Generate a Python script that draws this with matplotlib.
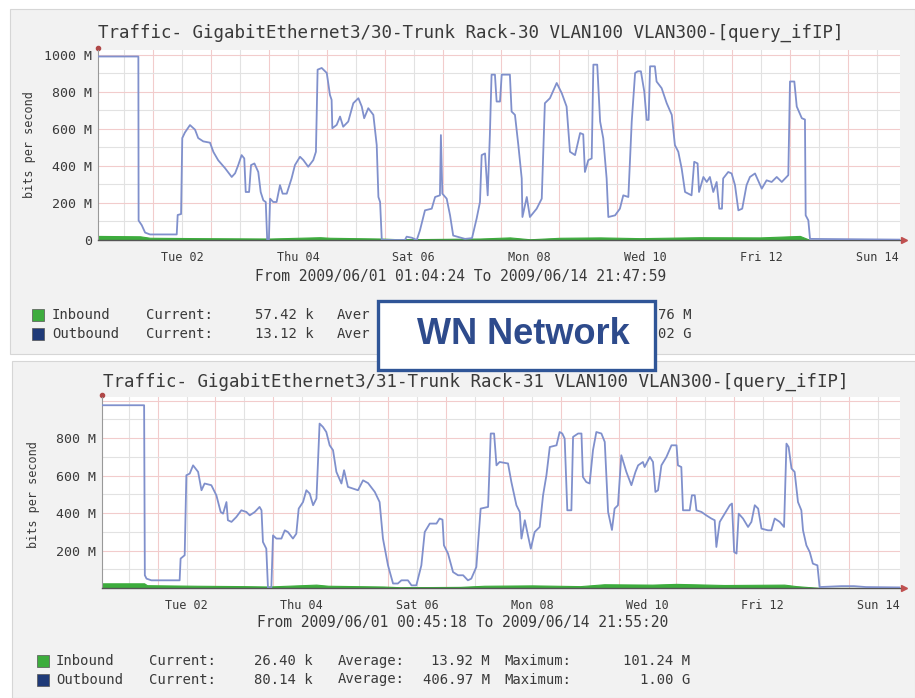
import numpy as np
import matplotlib
matplotlib.use('Agg')
import matplotlib.pyplot as plt
from matplotlib.patches import Rectangle

W, H = 915, 698
MONO = 'DejaVu Sans Mono'
TXT = '#3a3a3a'

# hours since 2009/06/01 00:00 -> Mbit/s
top_out = [(1.1, 990), (17.8, 990), (17.9, 105), (19.2, 80), (20.6, 40), (22.6, 30), (33.7, 30),
           (34.1, 135), (35.5, 140), (36.0, 550), (37.1, 580), (39.2, 620), (41.3, 595), (42.6, 550),
           (44.7, 532), (47.5, 525), (48.9, 475), (50.9, 430), (53.7, 388), (56.5, 340), (57.9, 360),
           (59.2, 404), (60.6, 458), (61.7, 440), (62.3, 259), (63.7, 259), (64.5, 404), (65.9, 413),
           (67.5, 367), (68.5, 259), (69.6, 214), (70.6, 205), (71.2, 0), (71.9, 0), (72.4, 223),
           (73.7, 205), (75.1, 205), (76.5, 296), (77.6, 250), (79.3, 250), (81.3, 332), (82.7, 404),
           (84.8, 449), (86.2, 431), (88.2, 395), (90.3, 431), (91.4, 476), (92.1, 919), (93.8, 928),
           (95.9, 901), (97.2, 783), (97.9, 756), (98.2, 603), (100.0, 621), (101.4, 666), (102.7, 611),
           (104.8, 639), (106.9, 738), (109.0, 765), (110.4, 720), (111.4, 657), (113.1, 711),
           (115.2, 675), (116.6, 512), (117.3, 232), (118.0, 205), (118.7, 0), (128.3, 0), (129.0, 18),
           (131.2, 12), (133.2, 0), (134.5, 51), (136.6, 160), (139.4, 169), (140.8, 232), (142.8, 241),
           (143.2, 566), (143.8, 250), (145.6, 223), (147.0, 133), (148.3, 24), (153.2, 6), (156.1, 10),
           (158.0, 115), (159.4, 205), (160.1, 458), (161.5, 467), (162.6, 241), (163.5, 566),
           (164.2, 892), (165.6, 892), (166.3, 747), (167.7, 747), (168.4, 892), (171.8, 892),
           (172.5, 693), (173.9, 675), (175.3, 512), (176.7, 332), (177.0, 124), (178.8, 232),
           (180.1, 124), (182.9, 169), (185.0, 223), (186.3, 738), (188.4, 765), (191.2, 847),
           (193.3, 792), (195.3, 720), (196.7, 476), (198.8, 458), (200.9, 577), (202.2, 570),
           (202.9, 367), (204.3, 431), (205.7, 440), (206.4, 946), (208.0, 946), (209.2, 639),
           (210.5, 548), (211.9, 332), (212.6, 124), (215.4, 133), (217.4, 169), (218.8, 241),
           (220.9, 232), (222.3, 639), (223.7, 901), (224.8, 910), (226.1, 910), (227.5, 801),
           (228.5, 648), (229.3, 648), (229.9, 937), (231.9, 937), (232.6, 855), (234.7, 819),
           (236.8, 738), (238.9, 675), (240.2, 512), (241.6, 476), (243.0, 386), (244.4, 259),
           (247.1, 241), (248.2, 422), (249.6, 413), (250.2, 259), (252.0, 340), (253.4, 313),
           (254.7, 340), (256.1, 259), (257.5, 313), (258.6, 169), (259.7, 169), (260.2, 332),
           (262.3, 367), (263.7, 359), (265.1, 296), (266.5, 160), (268.1, 169), (269.9, 296),
           (271.3, 340), (273.4, 359), (276.2, 277), (278.2, 322), (280.3, 313), (282.4, 340),
           (284.5, 313), (287.2, 350), (287.9, 855), (289.7, 855), (290.7, 720), (292.8, 657),
           (294.1, 650), (294.4, 133), (295.5, 106), (296.2, 6), (333.5, 2)]

top_in = [(1.1, 22), (18.5, 20), (22.6, 12), (43.4, 10), (72.4, 8), (93.1, 15), (97.2, 12),
          (118.0, 8), (126.2, 4), (142.8, 6), (159.4, 8), (171.8, 14), (180.1, 4), (192.6, 12),
          (209.2, 14), (225.7, 10), (250.6, 15), (275.5, 14), (292.0, 22), (296.2, 0), (333.5, 0)]

bot_out = [(0.8, 976), (18.3, 976), (18.6, 68), (19.3, 50), (21.3, 41), (33.1, 41), (33.5, 157),
           (35.2, 175), (35.9, 602), (37.3, 611), (38.7, 655), (40.8, 620), (42.2, 522), (43.5, 558),
           (46.3, 549), (48.4, 495), (50.2, 406), (51.2, 397), (52.6, 459), (53.2, 362), (54.7, 353),
           (56.7, 379), (58.8, 415), (60.9, 406), (62.3, 388), (64.4, 406), (66.4, 433), (67.2, 415),
           (67.8, 246), (69.2, 210), (69.9, 0), (71.3, 0), (72.0, 281), (73.4, 264), (75.5, 264),
           (76.9, 308), (78.2, 299), (80.3, 264), (81.7, 290), (82.7, 424), (84.5, 459), (85.9, 522),
           (87.3, 504), (88.7, 442), (90.1, 478), (91.4, 878), (92.8, 860), (94.2, 833), (95.6, 762),
           (97.0, 736), (98.4, 620), (100.5, 558), (101.6, 629), (103.2, 540), (105.3, 531),
           (107.4, 522), (109.5, 575), (111.6, 560), (114.4, 513), (116.4, 459), (117.8, 264),
           (119.9, 121), (122.0, 24), (124.0, 24), (125.5, 41), (128.2, 41), (129.7, 14), (131.7, 14),
           (133.8, 121), (135.2, 299), (137.3, 344), (140.1, 344), (141.4, 371), (142.6, 365),
           (143.2, 228), (144.9, 184), (147.0, 85), (149.1, 68), (151.2, 68), (153.2, 41), (154.6, 50),
           (156.7, 112), (158.5, 424), (161.6, 433), (162.7, 825), (164.1, 825), (165.1, 655),
           (166.4, 673), (169.9, 665), (171.3, 566), (173.4, 442), (174.8, 406), (175.5, 264),
           (176.9, 362), (178.2, 281), (179.4, 210), (181.0, 299), (183.1, 326), (184.5, 495),
           (185.9, 602), (187.3, 753), (190.1, 762), (191.4, 833), (192.5, 825), (193.5, 798),
           (194.6, 415), (196.3, 415), (197.0, 807), (199.1, 825), (200.5, 825), (201.1, 593),
           (202.5, 566), (203.9, 558), (205.3, 736), (206.7, 833), (208.8, 825), (210.2, 780),
           (211.6, 406), (213.2, 310), (214.3, 424), (215.7, 442), (217.1, 709), (219.2, 620),
           (221.3, 549), (223.0, 620), (224.1, 655), (226.1, 673), (226.8, 646), (229.0, 700),
           (230.3, 673), (231.3, 513), (232.4, 522), (233.8, 655), (235.9, 700), (238.0, 762),
           (240.1, 762), (240.7, 655), (242.1, 646), (242.8, 415), (245.6, 415), (246.5, 495),
           (247.7, 495), (248.4, 415), (250.5, 406), (252.5, 388), (254.6, 371), (256.0, 362),
           (256.7, 219), (258.1, 353), (260.2, 397), (262.3, 442), (263.2, 451), (264.1, 192),
           (265.1, 184), (266.0, 397), (267.8, 371), (269.9, 326), (271.3, 353), (272.7, 442),
           (274.1, 424), (275.5, 317), (278.2, 308), (279.6, 308), (281.0, 371), (283.1, 353),
           (284.9, 326), (285.9, 771), (286.8, 753), (288.0, 638), (289.3, 620), (290.7, 459),
           (292.1, 415), (292.8, 308), (294.2, 228), (295.6, 192), (296.9, 130), (298.8, 121),
           (299.7, 5), (308.8, 10), (314.0, 10), (319.0, 5), (333.2, 3)]

bot_in = [(0.8, 25), (18.3, 25), (19.5, 15), (40, 12), (60, 10), (70, 8), (90, 18), (95, 12),
          (118, 8), (125, 4), (150, 6), (160, 12), (180, 14), (200, 10), (210, 20), (230, 18),
          (240, 22), (260, 16), (285, 18), (290, 10), (298, 2), (300, 0), (333.2, 0)]

day_ticks = [36, 84, 132, 180, 228, 276, 324]
day_labels = ['Tue 02', 'Thu 04', 'Sat 06', 'Mon 08', 'Wed 10', 'Fri 12', 'Sun 14']

top_title = 'Traffic- GigabitEthernet3/30-Trunk Rack-30 VLAN100 VLAN300-[query_ifIP]'
bot_title = 'Traffic- GigabitEthernet3/31-Trunk Rack-31 VLAN100 VLAN300-[query_ifIP]'
top_range = 'From 2009/06/01 01:04:24 To 2009/06/14 21:47:59'
bot_range = 'From 2009/06/01 00:45:18 To 2009/06/14 21:55:20'

# top legend: the middle is hidden under the "WN Network" box, only the visible parts are drawn
top_legend = [('Inbound', '57.42 k', '76 M'),
              ('Outbound', '13.12 k', '02 G')]
bot_legend = [('Inbound', '26.40 k', '13.92 M', '101.24 M'),
              ('Outbound', '80.14 k', '406.97 M', '1.00 G')]

OUT_COL = '#8090cc'
IN_COL = '#3dac3d'
SQ_COLS = [IN_COL, '#1f3a78']


def fx(x):
    return x / W


def fy(y):
    return 1 - y / H


def rect(x0, y0, x1, y1):
    return [x0 / W, 1 - y1 / H, (x1 - x0) / W, (y1 - y0) / H]


def txt(x, y, s, **kw):
    kw.setdefault('family', MONO)
    kw.setdefault('color', TXT)
    kw.setdefault('va', 'center')
    fig.text(fx(x), fy(y), s, **kw)


def square(x, y, col):
    fig.add_artist(Rectangle((fx(x), fy(y + 6)), 12 / W, 12 / H, transform=fig.transFigure,
                             facecolor=col, edgecolor='#555555', lw=0.5))


def draw_panel(r, out, inb, xlim, ylim, yticks, ylabels):
    ax = fig.add_axes(r)
    ax.set_facecolor('white')
    for h in np.arange(12, xlim[1], 12):
        c = '#f2cccc' if h % 24 == 0 else '#e2e2e2'
        ax.axvline(h, color=c, lw=0.8, zorder=0)
    for v in np.arange(100, ylim, 100):
        c = '#f2cccc' if v % 200 == 0 else '#e2e2e2'
        ax.axhline(v, color=c, lw=0.8, zorder=0)
    oh, ov = np.array(out).T
    ih, iv = np.array(inb).T
    ax.fill_between(ih, 0, iv, color=IN_COL, lw=0.8, zorder=2)
    ax.plot(oh, ov, color=OUT_COL, lw=1.3, zorder=3)
    ax.set_xlim(*xlim)
    ax.set_ylim(0, ylim)
    ax.set_xticks(day_ticks)
    ax.set_xticklabels(day_labels, family=MONO, fontsize=8.5, color=TXT)
    ax.set_yticks(yticks)
    ax.set_yticklabels(ylabels, family=MONO, fontsize=9.5, color=TXT)
    ax.tick_params(length=0)
    ax.tick_params(axis='x', pad=8)
    ax.tick_params(axis='y', pad=4)
    for s in ['top', 'right']:
        ax.spines[s].set_visible(False)
    ax.spines['left'].set_color('#999999')
    ax.spines['left'].set_linewidth(0.8)
    ax.spines['bottom'].set_color('#555555')
    ax.spines['bottom'].set_linewidth(1.0)
    ax.plot(1.005, 0, '>', color='#c05050', ms=4, transform=ax.transAxes, clip_on=False)
    ax.plot(0, 1.01, 'o', color='#b04848', ms=3, transform=ax.transAxes, clip_on=False)
    return ax


fig = plt.figure(figsize=(W / 100, H / 100), dpi=100)
fig.patch.set_facecolor('white')

# panel backgrounds
fig.add_artist(Rectangle((fx(10), fy(354)), 905 / W, 345 / H, transform=fig.transFigure,
                         facecolor='#f2f2f2', edgecolor='#d6d6d6', lw=0.8, zorder=-10))
fig.add_artist(Rectangle((fx(12), fy(698)), 903 / W, 337 / H, transform=fig.transFigure,
                         facecolor='#f2f2f2', edgecolor='#d6d6d6', lw=0.8, zorder=-10))

draw_panel(rect(98, 50, 900, 240), top_out, top_in, (1.07, 333.5), 1025,
           [0, 200, 400, 600, 800, 1000], ['0', '200 M', '400 M', '600 M', '800 M', '1000 M'])
draw_panel(rect(102, 397, 900, 588), bot_out, bot_in, (0.755, 333.2), 1020,
           [200, 400, 600, 800], ['200 M', '400 M', '600 M', '800 M'])

txt(98, 33, top_title, fontsize=12.6)
txt(103, 382, bot_title, fontsize=12.6)
txt(30, 145, 'bits per second', fontsize=8.5, rotation=90, ha='center')
txt(34, 495, 'bits per second', fontsize=8.5, rotation=90, ha='center')
txt(461, 277, top_range, fontsize=10.5, ha='center')
txt(463, 623, bot_range, fontsize=10.5, ha='center')

# top legend
for i, (name, cur, mx_tail) in enumerate(top_legend):
    y = 315 + i * 18.5
    square(32, y, SQ_COLS[i])
    txt(52, y, name, fontsize=10)
    txt(146, y, 'Current:', fontsize=10)
    txt(314, y, cur, fontsize=10, ha='right')
    txt(337, y, 'Aver', fontsize=10)
    txt(692, y, mx_tail, fontsize=10, ha='right')

# bottom legend
for i, (name, cur, avg, mx) in enumerate(bot_legend):
    y = 661 + i * 18.5
    square(37, y, SQ_COLS[i])
    txt(56, y, name, fontsize=10)
    txt(149, y, 'Current:', fontsize=10)
    txt(313, y, cur, fontsize=10, ha='right')
    txt(338, y, 'Average:', fontsize=10)
    txt(490, y, avg, fontsize=10, ha='right')
    txt(504, y, 'Maximum:', fontsize=10)
    txt(690, y, mx, fontsize=10, ha='right')

# overlay label box
fig.add_artist(Rectangle((fx(378), fy(370)), 277 / W, 69 / H, transform=fig.transFigure,
                         facecolor='white', edgecolor='#2f5597', lw=2.4, zorder=20))
fig.text(fx(523), fy(335), 'WN Network', family='Liberation Sans', fontweight='bold',
         fontsize=26, color='#2e4b8c', ha='center', va='center', zorder=21)

fig.savefig('out.png', dpi=100)
